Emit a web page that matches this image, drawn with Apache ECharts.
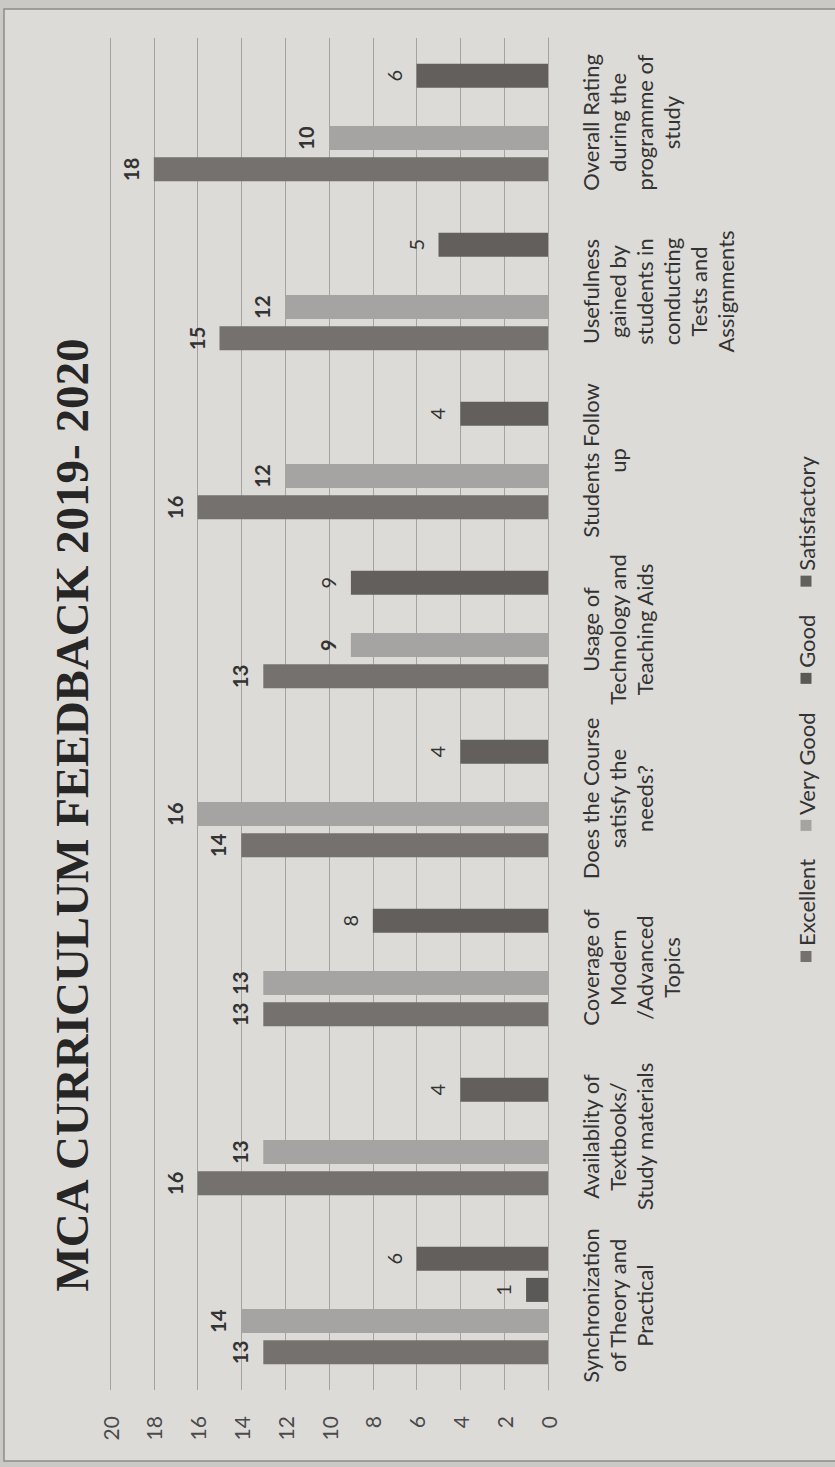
<!DOCTYPE html>
<html>
<head>
<meta charset="utf-8">
<script src="https://cdn.jsdelivr.net/npm/echarts@6.0.0/dist/echarts.min.js"></script>
<style>
html,body{margin:0;padding:0;width:835px;height:1467px;overflow:hidden;background:#cbc9c6;}
#wrap{position:absolute;left:0;top:0;width:1467px;height:835px;transform-origin:0 0;transform:translate(0,1467px) rotate(-90deg);}
</style>
</head>
<body>
<div id="wrap"></div>
<script>
const chartTitle = 'MCA CURRICULUM FEEDBACK 2019- 2020';
const categories = [
  'Synchronization\nof Theory and\nPractical',
  'Availablity of\nTextbooks/\nStudy materials',
  'Coverage of\nModern\n/Advanced\nTopics',
  'Does the Course\nsatisfy the\nneeds?',
  'Usage of\nTechnology and\nTeaching Aids',
  'Students Follow\nup',
  'Usefulness\ngained by\nstudents in\nconducting\nTests and\nAssignments',
  'Overall Rating\nduring the\nprogramme of\nstudy'
];
const seriesNames = ['Excellent', 'Very Good', 'Good', 'Satisfactory'];
const excellent    = [13, 16, 13, 14, 13, 16, 15, 18];
const veryGood     = [14, 13, 13, 16, 9, 12, 12, 10];
const good         = [1, null, null, null, null, null, null, null];
const satisfactory = [6, 4, 8, 4, 9, 4, 5, 6];
const valueMin = 0, valueMax = 20, valueStep = 2;

const seriesData = [excellent, veryGood, good, satisfactory];
const seriesColors = ['#74716f', '#a6a4a2', '#5b5957', '#625f5d'];
const labelWeights = ['bold', 'bold', 'normal', 'normal'];

const chart = echarts.init(document.getElementById('wrap'), null, {renderer: 'svg', width: 1467, height: 835});

chart.setOption({
  backgroundColor: '#cbc9c6',
  animation: false,
  graphic: [{
    type: 'rect', z: -10, silent: true,
    shape: {x: 6, y: 4, width: 1452, height: 900},
    style: {fill: '#dddbd8', stroke: '#8e8c8a', lineWidth: 1.5}
  }],
  title: {
    text: chartTitle,
    left: 652, top: 48, textAlign: 'center', padding: 0,
    textStyle: {fontFamily: 'Liberation Serif', fontWeight: 'bold', fontSize: 47, color: '#262626'}
  },
  legend: {
    data: seriesNames,
    left: 500, top: 790, orient: 'horizontal',
    icon: 'rect', itemWidth: 11, itemHeight: 11, itemGap: 28,
    textStyle: {fontFamily: 'Lato', fontSize: 22, color: '#333333'}
  },
  grid: {left: 77, right: 38, top: 110, bottom: 287, containLabel: false, outerBoundsMode: 'none'},
  xAxis: {
    type: 'category', data: categories,
    axisTick: {show: false},
    axisLine: {lineStyle: {color: '#a5a3a1', width: 1}},
    axisLabel: {interval: 0, fontFamily: 'Lato', fontSize: 22, lineHeight: 27, margin: 29, color: '#333333'}
  },
  yAxis: {
    type: 'value', min: valueMin, max: valueMax, interval: valueStep,
    axisLine: {show: false}, axisTick: {show: false},
    splitLine: {lineStyle: {color: '#a5a3a1', width: 1}},
    axisLabel: {fontFamily: 'Lato', fontSize: 21, margin: 26, color: '#4a4a4a'}
  },
  series: seriesNames.map((name, i) => ({
    name: name, type: 'bar', data: seriesData[i],
    barWidth: 24, barGap: '30%',
    itemStyle: {color: seriesColors[i]},
    label: {show: true, position: 'top', distance: 13, fontFamily: 'Lato', fontSize: 20,
            fontWeight: labelWeights[i], color: '#333333'}
  }))
});
</script>
</body>
</html>
